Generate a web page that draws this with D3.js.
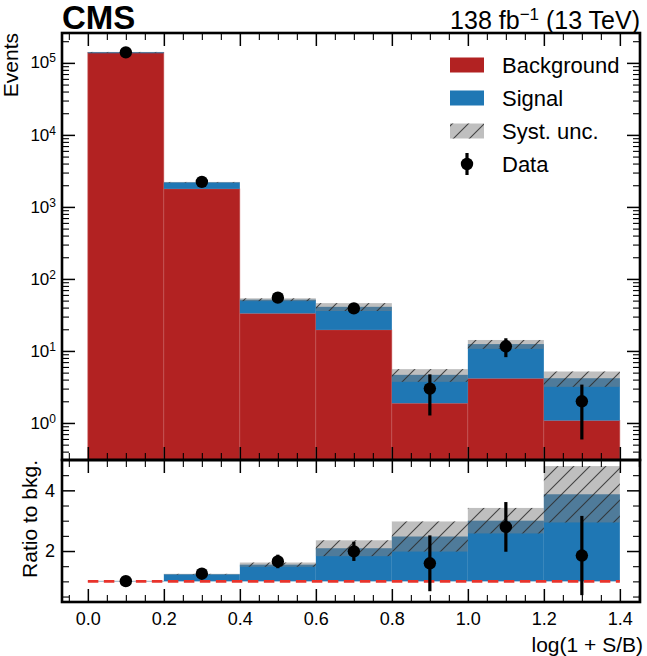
<!DOCTYPE html>
<html>
<head>
<meta charset="utf-8">
<script src="https://cdn.jsdelivr.net/npm/d3@7"></script>
<style>
  body { margin: 0; background: #fff; }
  svg { display: block; font-family: "Liberation Sans", Arial, sans-serif; }
</style>
</head>
<body>
<script>
// bins in log(1 + S/B)
var binEdges = [0, 0.2, 0.4, 0.6, 0.8, 1.0, 1.2, 1.4];
var background = [139000, 1780, 33.2, 19.6, 1.88, 4.15, 1.08];
var signal = [1500, 420, 18.3, 21.4, 2.78, 8.3, 3.1];
var systUnc = [0.01, 0.01, 0.045, 0.125, 0.20, 0.14, 0.24];   // relative
var dataCounts = [140000, 2230, 55, 39, 3, 11.6, 2];
var dataErr = [374, 47, 7.4, 6.2, 1.73, 3.4, 1.41];
var xTicks = [0, 0.2, 0.4, 0.6, 0.8, 1.0, 1.2, 1.4];
var ratioTicks = [2, 4];

var width = 647, height = 656;
var L = 62, R = 640, T = 33, M = 460, B = 602;

var red = "#b22222", blue = "#1f77b4";

var svg = d3.select("body").append("svg")
    .attr("width", width)
    .attr("height", height);

var defs = svg.append("defs");
var hatch = defs.append("pattern")
    .attr("id", "hatch")
    .attr("patternUnits", "userSpaceOnUse")
    .attr("width", 16).attr("height", 16);
hatch.append("path")
    .attr("d", "M0,16 L16,0 M-4,4 L4,-4 M12,20 L20,12")
    .attr("stroke", "#2b2b2b")
    .attr("stroke-width", 1.1)
    .attr("stroke-opacity", 0.85);

defs.append("clipPath").attr("id", "clipUp")
  .append("rect").attr("x", L).attr("y", T).attr("width", R - L).attr("height", M - T);
defs.append("clipPath").attr("id", "clipLo")
  .append("rect").attr("x", L).attr("y", M).attr("width", R - L).attr("height", B - M);

var x = d3.scaleLinear().domain([-0.068, 1.453]).range([L, R]);
var y = d3.scaleLog().domain([0.306, 2.6e5]).range([M, T]);
var yr = d3.scaleLinear().domain([0.32, 5.0]).range([B, M]);

var bins = background.map(function(b, i) {
    var tot = b + signal[i];
    return {
        x0: binEdges[i], x1: binEdges[i + 1],
        bkg: b, tot: tot, unc: systUnc[i],
        data: dataCounts[i], err: dataErr[i],
        xc: (binEdges[i] + binEdges[i + 1]) / 2
    };
});

// ---------- upper panel
var up = svg.append("g").attr("clip-path", "url(#clipUp)");

up.selectAll(".bkg").data(bins).enter().append("rect")
    .attr("x", function(d) { return x(d.x0); })
    .attr("width", function(d) { return x(d.x1) - x(d.x0); })
    .attr("y", function(d) { return y(d.bkg); })
    .attr("height", function(d) { return M - y(d.bkg); })
    .attr("fill", red)
    .attr("stroke", "#c65a5a")
    .attr("stroke-width", 0.6);

up.selectAll(".sig").data(bins).enter().append("rect")
    .attr("x", function(d) { return x(d.x0); })
    .attr("width", function(d) { return x(d.x1) - x(d.x0); })
    .attr("y", function(d) { return y(d.tot); })
    .attr("height", function(d) { return Math.max(1, y(d.bkg) - y(d.tot)); })
    .attr("fill", blue);

function bandUp(fill, opacity) {
    up.selectAll(null).data(bins).enter().append("rect")
        .attr("x", function(d) { return x(d.x0); })
        .attr("width", function(d) { return x(d.x1) - x(d.x0); })
        .attr("y", function(d) { return y(d.tot * (1 + d.unc)); })
        .attr("height", function(d) { return y(d.tot * (1 - d.unc)) - y(d.tot * (1 + d.unc)); })
        .attr("fill", fill)
        .attr("fill-opacity", opacity);
}
bandUp("#808080", 0.5);
bandUp("url(#hatch)", 1);

up.selectAll(".err").data(bins).enter().append("line")
    .attr("x1", function(d) { return x(d.xc); })
    .attr("x2", function(d) { return x(d.xc); })
    .attr("y1", function(d) { return y(d.data - d.err); })
    .attr("y2", function(d) { return y(d.data + d.err); })
    .attr("stroke", "#000").attr("stroke-width", 3.2);
up.selectAll(".pt").data(bins).enter().append("circle")
    .attr("cx", function(d) { return x(d.xc); })
    .attr("cy", function(d) { return y(d.data); })
    .attr("r", 6.2)
    .attr("fill", "#000");

// ---------- lower panel
var lo = svg.append("g").attr("clip-path", "url(#clipLo)");

lo.selectAll(".rsig").data(bins).enter().append("rect")
    .attr("x", function(d) { return x(d.x0); })
    .attr("width", function(d) { return x(d.x1) - x(d.x0); })
    .attr("y", function(d) { return yr(d.tot / d.bkg); })
    .attr("height", function(d) { return yr(1) - yr(d.tot / d.bkg); })
    .attr("fill", blue);

function bandLo(fill, opacity) {
    lo.selectAll(null).data(bins).enter().append("rect")
        .attr("x", function(d) { return x(d.x0); })
        .attr("width", function(d) { return x(d.x1) - x(d.x0); })
        .attr("y", function(d) { return yr(d.tot * (1 + d.unc) / d.bkg); })
        .attr("height", function(d) { return yr(d.tot * (1 - d.unc) / d.bkg) - yr(d.tot * (1 + d.unc) / d.bkg); })
        .attr("fill", fill)
        .attr("fill-opacity", opacity);
}
bandLo("#808080", 0.5);
bandLo("url(#hatch)", 1);

lo.append("line")
    .attr("x1", x(0)).attr("x2", x(1.4))
    .attr("y1", yr(1)).attr("y2", yr(1))
    .attr("stroke", "#e8332b")
    .attr("stroke-width", 2.6)
    .attr("stroke-dasharray", "10.5,5.5");

lo.selectAll(".rerr").data(bins).enter().append("line")
    .attr("x1", function(d) { return x(d.xc); })
    .attr("x2", function(d) { return x(d.xc); })
    .attr("y1", function(d) { return yr((d.data - d.err) / d.bkg); })
    .attr("y2", function(d) { return yr((d.data + d.err) / d.bkg); })
    .attr("stroke", "#000").attr("stroke-width", 3.2);
lo.selectAll(".rpt").data(bins).enter().append("circle")
    .attr("cx", function(d) { return x(d.xc); })
    .attr("cy", function(d) { return yr(d.data / d.bkg); })
    .attr("r", 6.2)
    .attr("fill", "#000");

// ---------- axes (ticks point inward)
var xMinor = d3.range(-0.05, 1.46, 0.05).filter(function(v) {
    return Math.abs(Math.round(v / 0.2) * 0.2 - v) > 1e-6 && v > x.domain()[0] && v < x.domain()[1];
});
var yAll = y.ticks();
var yMajor = yAll.filter(function(v) { return Math.abs(Math.log10(v) - Math.round(Math.log10(v))) < 1e-9; });
var yMinor = yAll.filter(function(v) { return yMajor.indexOf(v) < 0; });
var rMinor = d3.range(0.5, 5.0, 0.5).filter(function(v) { return ratioTicks.indexOf(v) < 0; });

function axisG(axis, tx, ty, major) {
    var g = svg.append("g")
        .attr("transform", "translate(" + tx + "," + ty + ")")
        .style("font-family", "'Liberation Sans', Arial, sans-serif")
        .style("font-size", "18px")
        .call(axis);
    g.select(".domain").remove();
    g.selectAll(".tick line").attr("stroke-width", major ? 1.5 : 1.1);
    g.selectAll(".tick text").attr("fill", "#000");
    return g;
}

[T, M].forEach(function(yy) {
    axisG(d3.axisTop(x).tickValues(xTicks).tickSize(-13).tickFormat(""), 0, yy, true);
    axisG(d3.axisTop(x).tickValues(xMinor).tickSize(-7).tickFormat(""), 0, yy, false);
});
[M, B].forEach(function(yy, i) {
    var ax = d3.axisBottom(x).tickValues(xTicks).tickSize(-13).tickPadding(10)
        .tickFormat(i === 1 ? d3.format(".1f") : "");
    axisG(ax, 0, yy, true);
    axisG(d3.axisBottom(x).tickValues(xMinor).tickSize(-7).tickFormat(""), 0, yy, false);
});

// upper y
var gYl = axisG(d3.axisLeft(y).tickValues(yMajor).tickSize(-13).tickPadding(6).tickFormat(""), L, 0, true);
axisG(d3.axisLeft(y).tickValues(yMinor).tickSize(-7).tickFormat(""), L, 0, false);
axisG(d3.axisRight(y).tickValues(yMajor).tickSize(-13).tickFormat(""), R, 0, true);
axisG(d3.axisRight(y).tickValues(yMinor).tickSize(-7).tickFormat(""), R, 0, false);

gYl.selectAll(".tick text").each(function(d) {
    var t = d3.select(this).attr("dy", "0.3em").attr("text-anchor", "end").attr("font-size", 17);
    t.text(null);
    t.append("tspan").text("10");
    t.append("tspan").attr("dy", "-0.5em").attr("font-size", 12).text(Math.round(Math.log10(d)));
});

// lower y
axisG(d3.axisLeft(yr).tickValues(ratioTicks).tickSize(-13).tickPadding(7).tickFormat(d3.format("d")), L, 0, true);
axisG(d3.axisLeft(yr).tickValues(rMinor).tickSize(-7).tickFormat(""), L, 0, false);
axisG(d3.axisRight(yr).tickValues(ratioTicks).tickSize(-13).tickFormat(""), R, 0, true);
axisG(d3.axisRight(yr).tickValues(rMinor).tickSize(-7).tickFormat(""), R, 0, false);

// frames
svg.append("rect").attr("x", L).attr("y", T).attr("width", R - L).attr("height", M - T)
    .attr("fill", "none").attr("stroke", "#000").attr("stroke-width", 2.6);
svg.append("rect").attr("x", L).attr("y", M).attr("width", R - L).attr("height", B - M)
    .attr("fill", "none").attr("stroke", "#000").attr("stroke-width", 2.6);

// ---------- labels
svg.append("text").attr("x", L).attr("y", 29)
    .attr("font-size", 33).attr("font-weight", "bold").text("CMS");

var lumi = svg.append("text").attr("x", R).attr("y", 29)
    .attr("text-anchor", "end").attr("font-size", 25);
lumi.append("tspan").text("138 fb");
lumi.append("tspan").attr("dy", "-9").attr("font-size", 17).text("\u22121");
lumi.append("tspan").attr("dy", "9").text(" (13 TeV)");

svg.append("text")
    .attr("transform", "translate(18," + T + ") rotate(-90)")
    .attr("text-anchor", "end").attr("font-size", 21).text("Events");
svg.append("text")
    .attr("transform", "translate(37," + M + ") rotate(-90)")
    .attr("text-anchor", "end").attr("font-size", 21).text("Ratio to bkg.");
svg.append("text")
    .attr("x", 643).attr("y", 652)
    .attr("text-anchor", "end").attr("font-size", 21).text("log(1 + S/B)");

// ---------- legend
var legendItems = ["Background", "Signal", "Syst. unc.", "Data"];
var legendY = [65, 98, 131, 164];
var lg = svg.append("g");
legendItems.forEach(function(name, i) {
    var cy = legendY[i];
    if (i < 2) {
        lg.append("rect").attr("x", 450).attr("y", cy - 7.5).attr("width", 34).attr("height", 15)
            .attr("fill", i === 0 ? red : blue);
    } else if (i === 2) {
        lg.append("rect").attr("x", 450).attr("y", cy - 7.5).attr("width", 34).attr("height", 15)
            .attr("fill", "#808080").attr("fill-opacity", 0.5);
        lg.append("rect").attr("x", 450).attr("y", cy - 7.5).attr("width", 34).attr("height", 15)
            .attr("fill", "url(#hatch)");
    } else {
        lg.append("line").attr("x1", 467).attr("x2", 467).attr("y1", cy - 11).attr("y2", cy + 11)
            .attr("stroke", "#000").attr("stroke-width", 3.2);
        lg.append("circle").attr("cx", 467).attr("cy", cy).attr("r", 6.2).attr("fill", "#000");
    }
    lg.append("text").attr("x", 502).attr("y", cy).attr("dy", "0.36em")
        .attr("font-size", 22).text(name);
});
</script>
</body>
</html>
